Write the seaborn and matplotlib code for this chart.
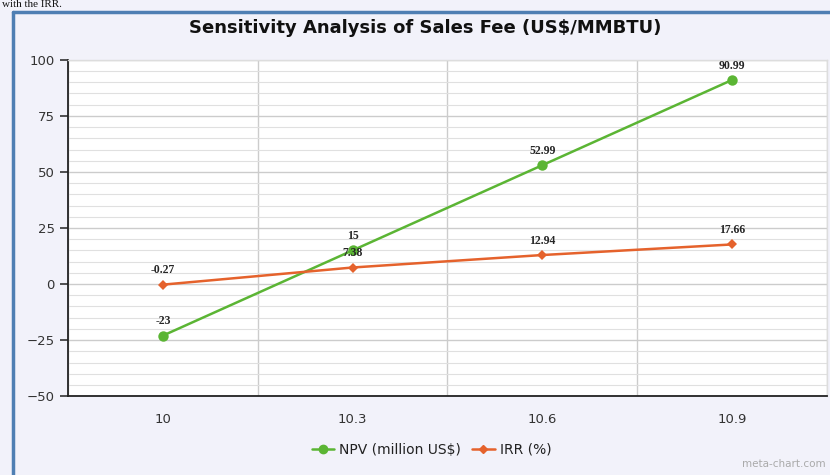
import matplotlib
matplotlib.use("Agg")
import matplotlib.pyplot as plt
import matplotlib.ticker as mtick
import seaborn as sns
import pandas as pd
from matplotlib.lines import Line2D

# chart data
fees = ["10", "10.3", "10.6", "10.9"]
npv = [-23, 15, 52.99, 90.99]
irr = [-0.27, 7.38, 12.94, 17.66]
npv_labels = ["-23", "15", "52.99", "90.99"]
irr_labels = ["-0.27", "7.38", "12.94", "17.66"]
series_names = ["NPV (million US$)", "IRR (%)"]
y_ticks = [-50, -25, 0, 25, 50, 75, 100]

GREEN = "#5bb534"
ORANGE = "#e5622c"
BG = "#f2f2fa"

sns.set_style("white")
plt.rcParams["font.family"] = ["DejaVu Sans"]

df = pd.DataFrame({
    "pos": list(range(len(fees))) * 2,
    "value": npv + irr,
    "series": [series_names[0]] * len(fees) + [series_names[1]] * len(fees),
})

fig = plt.figure(figsize=(8.3, 4.75), dpi=100)
fig.patch.set_facecolor(BG)
ax = fig.add_axes([0.082, 0.166, 0.914, 0.708])
ax.set_facecolor("white")

sns.lineplot(data=df, x="pos", y="value", hue="series", style="series",
             palette=[GREEN, ORANGE], markers=["o", "D"], dashes=False,
             markersize=7.5, linewidth=1.8, markeredgewidth=0, ax=ax, legend=False)
# smaller diamonds for IRR
for line in ax.get_lines()[1:2]:
    line.set_markersize(5.5)

# data labels
for i in range(len(fees)):
    ax.annotate(npv_labels[i], (i, npv[i]), xytext=(0, 6), textcoords="offset points",
                ha="center", va="bottom", fontsize=8.5, fontweight="bold",
                family="Liberation Serif")
    ax.annotate(irr_labels[i], (i, irr[i]), xytext=(0, 6), textcoords="offset points",
                ha="center", va="bottom", fontsize=8.5, fontweight="bold",
                family="Liberation Serif")

# axes limits and ticks
ax.set_xlim(-0.5, len(fees) - 0.5)
ax.set_ylim(-50, 100)
ax.set_xticks([i - 0.5 for i in range(len(fees) + 1)])
ax.set_xticklabels([])
ax.set_xticks(range(len(fees)), minor=True)
ax.set_xticklabels(fees, minor=True)
ax.tick_params(axis="x", which="major", length=8, width=1.2, color="#333333", direction="out")
ax.tick_params(axis="x", which="minor", length=0, pad=12, labelsize=9.5, labelcolor="#333333")
ax.set_yticks(y_ticks)
ax.yaxis.set_minor_locator(mtick.MultipleLocator(5))
ax.tick_params(axis="y", which="major", length=6, width=1.2, color="#333333",
               direction="out", labelsize=9.5, labelcolor="#333333", left=True)
ax.tick_params(axis="y", which="minor", length=0)
ax.set_xlabel("")
ax.set_ylabel("")

# grid
ax.grid(True, axis="y", which="major", color="#cccccc", linewidth=1)
ax.grid(True, axis="y", which="minor", color="#e0e0e0", linewidth=0.8)
ax.grid(True, axis="x", which="major", color="#cccccc", linewidth=1)
ax.set_axisbelow(True)

for side in ["top", "right"]:
    ax.spines[side].set_color("#dddddd")
    ax.spines[side].set_linewidth(1)
for side in ["left", "bottom"]:
    ax.spines[side].set_color("#222222")
    ax.spines[side].set_linewidth(1.3)

# title
fig.text(0.512, 0.942, "Sensitivity Analysis of Sales Fee (US$/MMBTU)", ha="center",
         va="center", fontsize=13, fontweight="bold", family="DejaVu Sans", color="#111111")

# legend
handles = [Line2D([], [], color=GREEN, marker="o", markersize=6, linewidth=1.8),
           Line2D([], [], color=ORANGE, marker="D", markersize=4.5, linewidth=1.8)]
fig.legend(handles, series_names, loc="center", bbox_to_anchor=(0.52, 0.053), ncol=2,
           frameon=False, fontsize=10, handlelength=1.6, handletextpad=0.4,
           columnspacing=0.8, labelcolor="#222222")

# watermark
fig.text(0.995, 0.012, "meta-chart.com", ha="right", va="bottom", fontsize=7.5, color="#aaaaaa")

# document frame and caption line from the page
fig.add_artist(Line2D([0.016, 0.016], [0, 0.975], color="#4f7fb3", linewidth=2.5))
fig.add_artist(Line2D([0.016, 1.0], [0.975, 0.975], color="#4f7fb3", linewidth=2.5))
fig.text(0.002, 0.999, "with the IRR.", ha="left", va="top", fontsize=8,
         family="Liberation Serif", color="#111111")

fig.savefig("out.png", dpi=100, facecolor=fig.get_facecolor())
